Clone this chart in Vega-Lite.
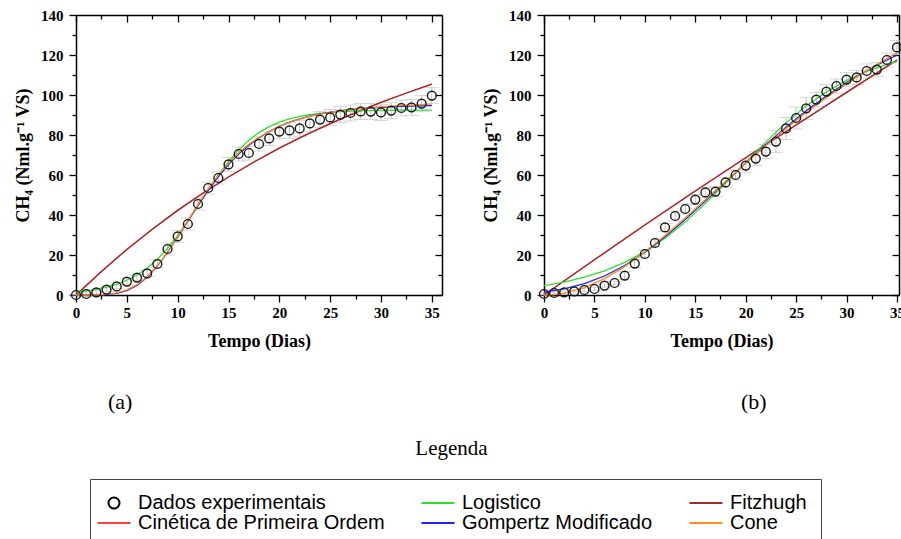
{
  "$schema": "https://vega.github.io/schema/vega-lite/v6.json",
  "background": "white",
  "padding": {"left": 14, "top": 8, "right": 0, "bottom": 0},
  "datasets": {
    "ptsA": [
      {"d":0,"y":0,"lo":0,"hi":0.5},{"d":1,"y":0.5,"lo":0,"hi":1.1},{"d":2,"y":1.3,"lo":0.5,"hi":2.1},{"d":3,"y":2.7,"lo":1.7,"hi":3.7},
      {"d":4,"y":4.3,"lo":3.3,"hi":5.3},{"d":5,"y":6.7,"lo":5.2,"hi":8.2},{"d":6,"y":8.7,"lo":7.2,"hi":10.2},{"d":7,"y":10.8,"lo":9.3,"hi":12.3},
      {"d":8,"y":15.5,"lo":13.5,"hi":17.5},{"d":9,"y":23,"lo":20,"hi":26},{"d":10,"y":29.3,"lo":26.3,"hi":32.3},{"d":11,"y":35.5,"lo":32.5,"hi":38.5},
      {"d":12,"y":45.5,"lo":42.5,"hi":48.5},{"d":13,"y":53.5,"lo":50.5,"hi":56.5},{"d":14,"y":58.5,"lo":55.5,"hi":61.5},{"d":15,"y":65.3,"lo":61.8,"hi":68.8},
      {"d":16,"y":70.5,"lo":67,"hi":74},{"d":17,"y":71,"lo":67.5,"hi":74.5},{"d":18,"y":75.5,"lo":72,"hi":79},{"d":19,"y":78.3,"lo":74.8,"hi":81.8},
      {"d":20,"y":81.7,"lo":78.2,"hi":85.2},{"d":21,"y":82.3,"lo":78.3,"hi":86.3},{"d":22,"y":83.3,"lo":79.3,"hi":87.3},{"d":23,"y":85.8,"lo":81.8,"hi":89.8},
      {"d":24,"y":87.7,"lo":83.7,"hi":91.7},{"d":25,"y":88.8,"lo":84.8,"hi":92.8},{"d":26,"y":90.2,"lo":86.2,"hi":94.2},{"d":27,"y":91,"lo":87,"hi":95},
      {"d":28,"y":91.8,"lo":87.8,"hi":95.8},{"d":29,"y":91.7,"lo":87.7,"hi":95.7},{"d":30,"y":91.3,"lo":87.3,"hi":95.3},{"d":31,"y":92.2,"lo":88.2,"hi":96.2},
      {"d":32,"y":93.5,"lo":89.5,"hi":97.5},{"d":33,"y":93.8,"lo":89.8,"hi":97.8},{"d":34,"y":95.7,"lo":91.7,"hi":99.7},{"d":35,"y":99.7,"lo":95.7,"hi":103.7}
    ],
    "ptsB": [
      {"d":0,"y":0.5,"lo":0,"hi":1.3},{"d":1,"y":1,"lo":0.2,"hi":1.8},{"d":2,"y":1.3,"lo":0.5,"hi":2.1},{"d":3,"y":1.8,"lo":1,"hi":2.6},
      {"d":4,"y":2.5,"lo":1.7,"hi":3.3},{"d":5,"y":3,"lo":2.2,"hi":3.8},{"d":6,"y":4.7,"lo":3.9,"hi":5.5},{"d":7,"y":6,"lo":5.2,"hi":6.8},
      {"d":8,"y":9.7,"lo":7.7,"hi":11.7},{"d":9,"y":15.7,"lo":13.7,"hi":17.7},{"d":10,"y":20.5,"lo":18.5,"hi":22.5},{"d":11,"y":26,"lo":24,"hi":28},
      {"d":12,"y":33.8,"lo":31.8,"hi":35.8},{"d":13,"y":39.5,"lo":37,"hi":42},{"d":14,"y":43,"lo":40.5,"hi":45.5},{"d":15,"y":47.7,"lo":45.2,"hi":50.2},
      {"d":16,"y":51.3,"lo":48.8,"hi":53.8},{"d":17,"y":51.7,"lo":49.2,"hi":54.2},{"d":18,"y":56.3,"lo":53.8,"hi":58.8},{"d":19,"y":60,"lo":57.5,"hi":62.5},
      {"d":20,"y":64.7,"lo":61.2,"hi":68.2},{"d":21,"y":68.2,"lo":64.7,"hi":71.7},{"d":22,"y":71.7,"lo":68.2,"hi":75.2},{"d":23,"y":76.7,"lo":71.2,"hi":82.2},
      {"d":24,"y":83.3,"lo":77.8,"hi":88.8},{"d":25,"y":88.5,"lo":83,"hi":94},{"d":26,"y":93.3,"lo":87.8,"hi":98.8},{"d":27,"y":97.7,"lo":94.2,"hi":101.2},
      {"d":28,"y":101.7,"lo":98.2,"hi":105.2},{"d":29,"y":104.5,"lo":101,"hi":108},{"d":30,"y":107.7,"lo":104.2,"hi":111.2},{"d":31,"y":108.8,"lo":105.3,"hi":112.3},
      {"d":32,"y":112,"lo":108.5,"hi":115.5},{"d":33,"y":112.7,"lo":109.2,"hi":116.2},{"d":34,"y":117.5,"lo":114,"hi":121},{"d":35,"y":123.8,"lo":120.3,"hi":127.3}
    ],
    "fitA": [
      {"m":"Cinética de Primeira Ordem","d":0,"y":0},{"m":"Cinética de Primeira Ordem","d":2.5,"y":11.8},{"m":"Cinética de Primeira Ordem","d":5,"y":22.8},{"m":"Cinética de Primeira Ordem","d":7.5,"y":32.9},{"m":"Cinética de Primeira Ordem","d":10,"y":42.3},{"m":"Cinética de Primeira Ordem","d":12.5,"y":51},{"m":"Cinética de Primeira Ordem","d":15,"y":59},{"m":"Cinética de Primeira Ordem","d":17.5,"y":66.5},{"m":"Cinética de Primeira Ordem","d":20,"y":73.4},{"m":"Cinética de Primeira Ordem","d":22.5,"y":79.8},{"m":"Cinética de Primeira Ordem","d":25,"y":85.7},{"m":"Cinética de Primeira Ordem","d":27.5,"y":91.2},{"m":"Cinética de Primeira Ordem","d":30,"y":96.3},{"m":"Cinética de Primeira Ordem","d":32.5,"y":101},{"m":"Cinética de Primeira Ordem","d":35,"y":105.4},
      {"m":"Fitzhugh","d":0,"y":0},{"m":"Fitzhugh","d":2.5,"y":11.8},{"m":"Fitzhugh","d":5,"y":22.8},{"m":"Fitzhugh","d":7.5,"y":32.9},{"m":"Fitzhugh","d":10,"y":42.3},{"m":"Fitzhugh","d":12.5,"y":51},{"m":"Fitzhugh","d":15,"y":59},{"m":"Fitzhugh","d":17.5,"y":66.5},{"m":"Fitzhugh","d":20,"y":73.4},{"m":"Fitzhugh","d":22.5,"y":79.8},{"m":"Fitzhugh","d":25,"y":85.7},{"m":"Fitzhugh","d":27.5,"y":91.2},{"m":"Fitzhugh","d":30,"y":96.3},{"m":"Fitzhugh","d":32.5,"y":101},{"m":"Fitzhugh","d":35,"y":105.4},
      {"m":"Logistico","d":0,"y":1.44},{"m":"Logistico","d":1,"y":2},{"m":"Logistico","d":2,"y":2.8},{"m":"Logistico","d":3,"y":3.88},{"m":"Logistico","d":4,"y":5.36},{"m":"Logistico","d":5,"y":7.36},{"m":"Logistico","d":6,"y":10.02},{"m":"Logistico","d":7,"y":13.48},{"m":"Logistico","d":8,"y":17.89},{"m":"Logistico","d":9,"y":23.31},{"m":"Logistico","d":10,"y":29.72},{"m":"Logistico","d":11,"y":36.94},{"m":"Logistico","d":12,"y":44.68},{"m":"Logistico","d":13,"y":52.5},{"m":"Logistico","d":14,"y":59.98},{"m":"Logistico","d":15,"y":66.74},{"m":"Logistico","d":16,"y":72.57},{"m":"Logistico","d":17,"y":77.37},{"m":"Logistico","d":18,"y":81.2},{"m":"Logistico","d":19,"y":84.16},{"m":"Logistico","d":20,"y":86.41},{"m":"Logistico","d":21,"y":88.08},{"m":"Logistico","d":22,"y":89.31},{"m":"Logistico","d":23,"y":90.21},{"m":"Logistico","d":24,"y":90.86},{"m":"Logistico","d":26,"y":91.66},{"m":"Logistico","d":28,"y":92.08},{"m":"Logistico","d":30,"y":92.29},{"m":"Logistico","d":32,"y":92.39},{"m":"Logistico","d":35,"y":92.46},
      {"m":"Gompertz Modificado","d":0,"y":0},{"m":"Gompertz Modificado","d":1,"y":0.01},{"m":"Gompertz Modificado","d":2,"y":0.05},{"m":"Gompertz Modificado","d":3,"y":0.25},{"m":"Gompertz Modificado","d":4,"y":0.84},{"m":"Gompertz Modificado","d":5,"y":2.23},{"m":"Gompertz Modificado","d":6,"y":4.82},{"m":"Gompertz Modificado","d":7,"y":8.89},{"m":"Gompertz Modificado","d":8,"y":14.47},{"m":"Gompertz Modificado","d":9,"y":21.29},{"m":"Gompertz Modificado","d":10,"y":28.95},{"m":"Gompertz Modificado","d":11,"y":36.96},{"m":"Gompertz Modificado","d":12,"y":44.87},{"m":"Gompertz Modificado","d":13,"y":52.35},{"m":"Gompertz Modificado","d":14,"y":59.17},{"m":"Gompertz Modificado","d":15,"y":65.21},{"m":"Gompertz Modificado","d":16,"y":70.45},{"m":"Gompertz Modificado","d":17,"y":74.92},{"m":"Gompertz Modificado","d":18,"y":78.66},{"m":"Gompertz Modificado","d":19,"y":81.77},{"m":"Gompertz Modificado","d":20,"y":84.33},{"m":"Gompertz Modificado","d":21,"y":86.42},{"m":"Gompertz Modificado","d":22,"y":88.12},{"m":"Gompertz Modificado","d":23,"y":89.49},{"m":"Gompertz Modificado","d":24,"y":90.59},{"m":"Gompertz Modificado","d":26,"y":92.2},{"m":"Gompertz Modificado","d":28,"y":93.22},{"m":"Gompertz Modificado","d":30,"y":93.88},{"m":"Gompertz Modificado","d":32,"y":94.29},{"m":"Gompertz Modificado","d":35,"y":94.64},
      {"m":"Cone","d":0,"y":0},{"m":"Cone","d":1,"y":0},{"m":"Cone","d":2,"y":0.07},{"m":"Cone","d":3,"y":0.35},{"m":"Cone","d":4,"y":1.09},{"m":"Cone","d":5,"y":2.59},{"m":"Cone","d":6,"y":5.18},{"m":"Cone","d":7,"y":9.12},{"m":"Cone","d":8,"y":14.53},{"m":"Cone","d":9,"y":21.26},{"m":"Cone","d":10,"y":28.98},{"m":"Cone","d":11,"y":37.18},{"m":"Cone","d":12,"y":45.33},{"m":"Cone","d":13,"y":53},{"m":"Cone","d":14,"y":59.9},{"m":"Cone","d":15,"y":65.9},{"m":"Cone","d":16,"y":71.1},{"m":"Cone","d":17,"y":75.4},{"m":"Cone","d":18,"y":78.9},{"m":"Cone","d":19,"y":81.9},{"m":"Cone","d":20,"y":84.3},{"m":"Cone","d":21,"y":86.3},{"m":"Cone","d":22,"y":87.9},{"m":"Cone","d":23,"y":89.3},{"m":"Cone","d":24,"y":90.4},{"m":"Cone","d":26,"y":92.1},{"m":"Cone","d":28,"y":93.3},{"m":"Cone","d":30,"y":94.1},{"m":"Cone","d":32,"y":94.8},{"m":"Cone","d":35,"y":95.4}
    ],
    "fitB": [
      {"m":"Cinética de Primeira Ordem","d":0,"y":0},{"m":"Cinética de Primeira Ordem","d":5,"y":17.6},{"m":"Cinética de Primeira Ordem","d":10,"y":35},{"m":"Cinética de Primeira Ordem","d":15,"y":52},{"m":"Cinética de Primeira Ordem","d":20,"y":68.6},{"m":"Cinética de Primeira Ordem","d":25,"y":85},{"m":"Cinética de Primeira Ordem","d":30,"y":101.3},{"m":"Cinética de Primeira Ordem","d":35,"y":117.5},
      {"m":"Fitzhugh","d":0,"y":0},{"m":"Fitzhugh","d":5,"y":17.6},{"m":"Fitzhugh","d":10,"y":35},{"m":"Fitzhugh","d":15,"y":52},{"m":"Fitzhugh","d":20,"y":68.6},{"m":"Fitzhugh","d":25,"y":85},{"m":"Fitzhugh","d":30,"y":101.3},{"m":"Fitzhugh","d":35,"y":117.5},
      {"m":"Logistico","d":0,"y":4.7},{"m":"Logistico","d":2,"y":6.48},{"m":"Logistico","d":4,"y":8.88},{"m":"Logistico","d":6,"y":12.09},{"m":"Logistico","d":8,"y":16.3},{"m":"Logistico","d":10,"y":21.69},{"m":"Logistico","d":12,"y":28.4},{"m":"Logistico","d":14,"y":36.44},{"m":"Logistico","d":16,"y":45.69},{"m":"Logistico","d":18,"y":55.8},{"m":"Logistico","d":20,"y":66.28},{"m":"Logistico","d":22,"y":76.55},{"m":"Logistico","d":24,"y":86.08},{"m":"Logistico","d":26,"y":94.49},{"m":"Logistico","d":28,"y":101.57},{"m":"Logistico","d":30,"y":107.32},{"m":"Logistico","d":32,"y":111.84},{"m":"Logistico","d":34,"y":115.3},{"m":"Logistico","d":35,"y":116.7},
      {"m":"Gompertz Modificado","d":0,"y":1.45},{"m":"Gompertz Modificado","d":2,"y":3.04},{"m":"Gompertz Modificado","d":4,"y":5.64},{"m":"Gompertz Modificado","d":6,"y":9.5},{"m":"Gompertz Modificado","d":8,"y":14.75},{"m":"Gompertz Modificado","d":10,"y":21.3},{"m":"Gompertz Modificado","d":12,"y":29.07},{"m":"Gompertz Modificado","d":14,"y":37.74},{"m":"Gompertz Modificado","d":16,"y":47},{"m":"Gompertz Modificado","d":18,"y":56.5},{"m":"Gompertz Modificado","d":20,"y":66},{"m":"Gompertz Modificado","d":22,"y":75.2},{"m":"Gompertz Modificado","d":24,"y":83.9},{"m":"Gompertz Modificado","d":26,"y":92.1},{"m":"Gompertz Modificado","d":28,"y":99.5},{"m":"Gompertz Modificado","d":30,"y":106.2},{"m":"Gompertz Modificado","d":32,"y":112.2},{"m":"Gompertz Modificado","d":34,"y":117.5},{"m":"Gompertz Modificado","d":35,"y":119.9},
      {"m":"Cone","d":0,"y":0},{"m":"Cone","d":1,"y":0.23},{"m":"Cone","d":2,"y":0.91},{"m":"Cone","d":4,"y":3.67},{"m":"Cone","d":6,"y":8.19},{"m":"Cone","d":8,"y":14.2},{"m":"Cone","d":10,"y":21.5},{"m":"Cone","d":12,"y":29.7},{"m":"Cone","d":14,"y":38.5},{"m":"Cone","d":16,"y":47.6},{"m":"Cone","d":18,"y":56.8},{"m":"Cone","d":20,"y":66},{"m":"Cone","d":22,"y":74.7},{"m":"Cone","d":24,"y":83.2},{"m":"Cone","d":26,"y":91.2},{"m":"Cone","d":28,"y":98.7},{"m":"Cone","d":30,"y":105.7},{"m":"Cone","d":32,"y":112.2},{"m":"Cone","d":34,"y":118.2},{"m":"Cone","d":35,"y":121}
    ]
  },
  "vconcat": [
    {
      "title": {"text": "Legenda", "orient": "bottom", "anchor": "middle", "offset": 25, "font": "Liberation Serif", "fontSize": 21, "fontWeight": "normal", "color": "black", "dx": -8},
      "spacing": 39,
      "hconcat": [
        {
          "width": 366, "height": 280,
          "title": {"text": "(a)", "orient": "bottom", "anchor": "start", "frame": "group", "dx": 32, "offset": 42, "font": "Liberation Serif", "fontSize": 22, "fontWeight": "normal", "color": "black"},
          "layer": [
            {"data": {"name": "ptsA"}, "mark": {"type": "rule", "color": "#c4c4c4", "strokeWidth": 1},
             "encoding": {
               "x": {"field": "d", "type": "quantitative", "scale": {"domain": [0, 36], "nice": false, "zero": false},
                     "axis": {"orient": "bottom", "title": "Tempo (Dias)", "values": [0,2.5,5,7.5,10,12.5,15,17.5,20,22.5,25,27.5,30,32.5,35], "labelExpr": "datum.value % 5 === 0 ? datum.label : ''", "tickSize": {"condition": {"test": "datum.value % 5 === 0", "value": 7}, "value": 4}, "labelPadding": 3, "titlePadding": 12}},
               "y": {"field": "lo", "type": "quantitative", "scale": {"domain": [0, 140], "nice": false},
                     "axis": {"orient": "left", "title": "CH₄ (Nml.g⁻¹ VS)", "values": [0,10,20,30,40,50,60,70,80,90,100,110,120,130,140], "labelExpr": "datum.value % 20 === 0 ? datum.label : ''", "tickSize": {"condition": {"test": "datum.value % 20 === 0", "value": 7}, "value": 4}, "labelPadding": 6, "titlePadding": 8}},
               "y2": {"field": "hi"}
             }},
            {"data": {"name": "ptsA"}, "mark": {"type": "tick", "orient": "horizontal", "size": 14, "thickness": 1, "color": "#c4c4c4"},
             "encoding": {"x": {"field": "d", "type": "quantitative", "scale": {"domain": [0, 36], "nice": false}, "axis": null},
                          "y": {"field": "lo", "type": "quantitative", "scale": {"domain": [0, 140], "nice": false}, "axis": null}}},
            {"data": {"name": "ptsA"}, "mark": {"type": "tick", "orient": "horizontal", "size": 14, "thickness": 1, "color": "#c4c4c4"},
             "encoding": {"x": {"field": "d", "type": "quantitative", "scale": {"domain": [0, 36], "nice": false}, "axis": null},
                          "y": {"field": "hi", "type": "quantitative", "scale": {"domain": [0, 140], "nice": false}, "axis": null}}},
            {"data": {"name": "fitA"}, "mark": {"type": "line", "strokeWidth": 1.3},
             "encoding": {
               "x": {"field": "d", "type": "quantitative", "scale": {"domain": [0, 36], "nice": false},
                     "axis": {"orient": "top", "title": null, "labels": false, "values": [0,2.5,5,7.5,10,12.5,15,17.5,20,22.5,25,27.5,30,32.5,35], "tickSize": {"condition": {"test": "datum.value % 5 === 0", "value": -7}, "value": -4}}},
               "y": {"field": "y", "type": "quantitative", "scale": {"domain": [0, 140], "nice": false},
                     "axis": {"orient": "right", "title": null, "labels": false, "values": [0,10,20,30,40,50,60,70,80,90,100,110,120,130,140], "tickSize": {"condition": {"test": "datum.value % 20 === 0", "value": -7}, "value": -4}}},
               "color": {"field": "m", "type": "nominal", "sort": null,
                         "scale": {"domain": ["Dados experimentais", "Logistico", "Fitzhugh", "Cinética de Primeira Ordem", "Gompertz Modificado", "Cone"],
                                   "range": ["#000000", "#2ee02e", "#a52a2a", "#ff4040", "#2020ff", "#ff8c1a"]},
                         "legend": {"orient": "none", "legendX": 14, "legendY": 464, "title": null, "columns": 3, "direction": "horizontal",
                                    "symbolType": "M-3,0H3", "symbolSize": 121, "symbolStrokeWidth": 2, "rowPadding": -3, "columnPadding": 32,
                                    "labelFont": "Liberation Sans", "labelFontSize": 20, "labelColor": "black", "labelLimit": 400, "labelOffset": 14,
                                    "padding": 14, "strokeColor": "#444", "fillColor": "white", "cornerRadius": 0,
                                    "encode": {"symbols": {"update": {
                                      "shape": {"signal": "datum.value === 'Dados experimentais' ? 'circle' : 'M-3,0H3'"},
                                      "fill": {"value": "transparent"},
                                      "strokeWidth": {"value": 2}
                                    }}}}}
             }},
            {"data": {"name": "ptsA"}, "mark": {"type": "point", "shape": "circle", "filled": false, "size": 78, "stroke": "#1a1a1a", "strokeWidth": 1.4, "opacity": 1},
             "encoding": {"x": {"field": "d", "type": "quantitative", "scale": {"domain": [0, 36], "nice": false}, "axis": null},
                          "y": {"field": "y", "type": "quantitative", "scale": {"domain": [0, 140], "nice": false}, "axis": null}}}
          ],
          "resolve": {"axis": {"x": "independent", "y": "independent"}}
        },
        {
          "width": 355, "height": 280,
          "title": {"text": "(b)", "orient": "bottom", "anchor": "start", "frame": "group", "dx": 197, "offset": 42, "font": "Liberation Serif", "fontSize": 22, "fontWeight": "normal", "color": "black"},
          "layer": [
            {"data": {"name": "ptsB"}, "mark": {"type": "rule", "color": "#c4c4c4", "strokeWidth": 1},
             "encoding": {
               "x": {"field": "d", "type": "quantitative", "scale": {"domain": [0, 35.2], "nice": false, "zero": false},
                     "axis": {"orient": "bottom", "title": "Tempo (Dias)", "values": [0,2.5,5,7.5,10,12.5,15,17.5,20,22.5,25,27.5,30,32.5,35], "labelExpr": "datum.value % 5 === 0 ? datum.label : ''", "tickSize": {"condition": {"test": "datum.value % 5 === 0", "value": 7}, "value": 4}, "labelPadding": 3, "titlePadding": 12}},
               "y": {"field": "lo", "type": "quantitative", "scale": {"domain": [0, 140], "nice": false},
                     "axis": {"orient": "left", "title": "CH₄ (Nml.g⁻¹ VS)", "values": [0,10,20,30,40,50,60,70,80,90,100,110,120,130,140], "labelExpr": "datum.value % 20 === 0 ? datum.label : ''", "tickSize": {"condition": {"test": "datum.value % 20 === 0", "value": 7}, "value": 4}, "labelPadding": 6, "titlePadding": 8}},
               "y2": {"field": "hi"}
             }},
            {"data": {"name": "ptsB"}, "mark": {"type": "tick", "orient": "horizontal", "size": 14, "thickness": 1, "color": "#c4c4c4"},
             "encoding": {"x": {"field": "d", "type": "quantitative", "scale": {"domain": [0, 35.2], "nice": false}, "axis": null},
                          "y": {"field": "lo", "type": "quantitative", "scale": {"domain": [0, 140], "nice": false}, "axis": null}}},
            {"data": {"name": "ptsB"}, "mark": {"type": "tick", "orient": "horizontal", "size": 14, "thickness": 1, "color": "#c4c4c4"},
             "encoding": {"x": {"field": "d", "type": "quantitative", "scale": {"domain": [0, 35.2], "nice": false}, "axis": null},
                          "y": {"field": "hi", "type": "quantitative", "scale": {"domain": [0, 140], "nice": false}, "axis": null}}},
            {"data": {"name": "fitB"}, "mark": {"type": "line", "strokeWidth": 1.3},
             "encoding": {
               "x": {"field": "d", "type": "quantitative", "scale": {"domain": [0, 35.2], "nice": false},
                     "axis": {"orient": "top", "title": null, "labels": false, "values": [0,2.5,5,7.5,10,12.5,15,17.5,20,22.5,25,27.5,30,32.5,35], "tickSize": {"condition": {"test": "datum.value % 5 === 0", "value": -7}, "value": -4}}},
               "y": {"field": "y", "type": "quantitative", "scale": {"domain": [0, 140], "nice": false},
                     "axis": {"orient": "right", "title": null, "labels": false, "values": [0,10,20,30,40,50,60,70,80,90,100,110,120,130,140], "tickSize": {"condition": {"test": "datum.value % 20 === 0", "value": -7}, "value": -4}}},
               "color": {"field": "m", "type": "nominal", "sort": null,
                         "scale": {"domain": ["Dados experimentais", "Logistico", "Fitzhugh", "Cinética de Primeira Ordem", "Gompertz Modificado", "Cone"],
                                   "range": ["#000000", "#2ee02e", "#a52a2a", "#ff4040", "#2020ff", "#ff8c1a"]}}
             }},
            {"data": {"name": "ptsB"}, "mark": {"type": "point", "shape": "circle", "filled": false, "size": 78, "stroke": "#1a1a1a", "strokeWidth": 1.4, "opacity": 1},
             "encoding": {"x": {"field": "d", "type": "quantitative", "scale": {"domain": [0, 35.2], "nice": false}, "axis": null},
                          "y": {"field": "y", "type": "quantitative", "scale": {"domain": [0, 140], "nice": false}, "axis": null}}}
          ],
          "resolve": {"axis": {"x": "independent", "y": "independent"}}
        }
      ]
    }
  ],
  "resolve": {"scale": {"color": "shared"}, "legend": {"color": "shared"}},
  "config": {
    "view": {"stroke": null},
    "axis": {
      "grid": false, "domainColor": "black", "domainWidth": 1.5, "tickColor": "black", "tickWidth": 1.3,
      "labelFont": "Liberation Serif", "labelFontWeight": "bold", "labelFontSize": 15, "labelColor": "black",
      "titleFont": "Liberation Serif", "titleFontWeight": "bold", "titleFontSize": 18, "titleColor": "black",
      "labelFlush": false, "labelOverlap": false
    }
  }
}
